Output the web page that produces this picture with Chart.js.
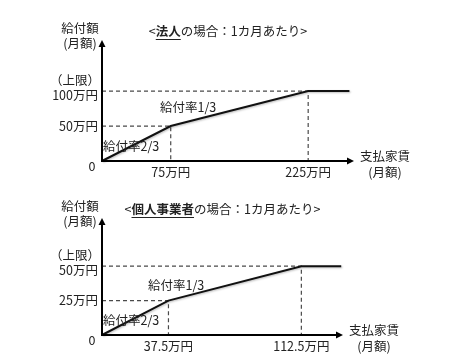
<!DOCTYPE html>
<html>
<head>
<meta charset="utf-8">
<script src="https://cdn.jsdelivr.net/npm/chart.js@4.4.1/dist/chart.umd.min.js"></script>
<style>
  html, body { margin: 0; padding: 0; background: #fff; }
  #wrap { position: relative; width: 461px; height: 364px; }
  .box  { position: absolute; left: 0; width: 461px; height: 182px; }
</style>
</head>
<body>
<div id="wrap">
  <div class="box" style="top:0"><canvas id="chart-corp"></canvas></div>
  <div class="box" style="top:182px"><canvas id="chart-sole"></canvas></div>
</div>
<script>
// ── 法人 ─────────────────────────────────────────────
var corpRent    = [0, 75, 225, 270];      // 支払家賃 (万円)
var corpBenefit = [0, 50, 100, 100];      // 給付額 (万円)
var corpXTicks  = ['75万円', '225万円'];
var corpYTicks  = ['50万円', '100万円'];
var corpTitle   = [['<', false], ['法人', true], ['の場合：1カ月あたり>', false]];

// ── 個人事業者 ───────────────────────────────────────
var soleRent    = [0, 37.5, 112.5, 135];
var soleBenefit = [0, 25, 50, 50];
var soleXTicks  = ['37.5万円', '112.5万円'];
var soleYTicks  = ['25万円', '50万円'];
var soleTitle   = [['<', false], ['個人事業者', true], ['の場合：1カ月あたり>', false]];

var rateLabels  = ['給付率2/3', '給付率1/3'];

var FONT = '"Noto Sans CJK JP", "Noto Sans", sans-serif';
var SIZE = '12.5px ';
var INK  = '#222';

// Axes with arrows, tick texts, titles and notes
var diagramPlugin = {
    id: 'diagram',
    beforeDatasetDraw: function (chart, args) {
        if (args.index !== 0) return;
        var ctx = chart.ctx;
        ctx.shadowColor   = 'rgba(0,0,0,0.25)';
        ctx.shadowBlur    = 2;
        ctx.shadowOffsetX = 1;
        ctx.shadowOffsetY = 1;
    },
    afterDatasetDraw: function (chart, args) {
        if (args.index !== 0) return;
        var ctx = chart.ctx;
        ctx.shadowColor = 'transparent';
        ctx.shadowBlur = 0;
        ctx.shadowOffsetX = 0;
        ctx.shadowOffsetY = 0;
    },
    afterDatasetsDraw: function (chart, args, o) {
        var ctx = chart.ctx;
        var a   = chart.chartArea;
        var xs  = chart.scales.x, ys = chart.scales.y;
        var L = a.left, B = a.bottom, T = a.top, R = a.right;

        ctx.save();
        // axes
        ctx.strokeStyle = '#000';
        ctx.fillStyle   = '#000';
        ctx.lineWidth   = 2;
        ctx.beginPath();
        ctx.moveTo(L, B + 1); ctx.lineTo(L, T + 5);
        ctx.moveTo(L - 1, B); ctx.lineTo(R - 5, B);
        ctx.stroke();
        ctx.beginPath();
        ctx.moveTo(L, T); ctx.lineTo(L - 3.5, T + 7); ctx.lineTo(L + 3.5, T + 7); ctx.closePath();
        ctx.fill();
        ctx.beginPath();
        ctx.moveTo(R, B); ctx.lineTo(R - 7, B - 3.5); ctx.lineTo(R - 7, B + 3.5); ctx.closePath();
        ctx.fill();

        ctx.fillStyle    = INK;
        ctx.font         = SIZE + FONT;
        ctx.textBaseline = 'middle';

        // y axis title
        ctx.textAlign = 'center';
        ctx.fillText('給付額', L - 22, T - 12);
        ctx.fillText('(月額)', L - 22, T + 3);

        // x axis title
        ctx.fillText('支払家賃', R + 31, B - 5);
        ctx.fillText('(月額)', R + 31, B + 11);

        // origin
        ctx.fillText('0', L - 10, B + 5);

        // x tick labels
        o.xTicks.forEach(function (t, i) {
            ctx.fillText(t, xs.getPixelForValue(o.rent[i + 1]), B + 11);
        });

        // y tick labels
        ctx.textAlign = 'right';
        ctx.fillText(o.yTicks[0], L - 4, ys.getPixelForValue(o.benefit[1]));
        var capY = ys.getPixelForValue(o.benefit[2]);
        ctx.fillText(o.yTicks[1], L - 4, capY + 4);
        ctx.fillText('（上限）', L - 2, capY - 11);

        // rate notes
        ctx.textAlign = 'left';
        ctx.fillText(rateLabels[0], L + 1, B - 15);
        ctx.fillText(rateLabels[1], L + o.noteDx, B - o.noteDy);

        // title with bold underlined subject
        var cx = (L + R) / 2, ty = T - 9;
        var widths = o.title.map(function (s) {
            ctx.font = (s[1] ? 'bold ' : '') + SIZE + FONT;
            return ctx.measureText(s[0]).width;
        });
        var total = widths.reduce(function (p, w) { return p + w; }, 0);
        var x = cx - total / 2;
        o.title.forEach(function (s, i) {
            ctx.font = (s[1] ? 'bold ' : '') + SIZE + FONT;
            ctx.fillText(s[0], x, ty);
            if (s[1]) {
                ctx.lineWidth = 1;
                ctx.strokeStyle = INK;
                ctx.beginPath();
                ctx.moveTo(x, ty + 8.5); ctx.lineTo(x + widths[i], ty + 8.5);
                ctx.stroke();
            }
            x += widths[i];
        });
        ctx.restore();
    }
};

function makeChart(id, rent, benefit, xTicks, yTicks, title, ext) {
    var main = rent.map(function (x, i) { return { x: x, y: benefit[i] }; });
    var guides = [1, 2].map(function (k) {
        return {
            data: [{ x: 0, y: benefit[k] }, { x: rent[k], y: benefit[k] }, { x: rent[k], y: 0 }],
            borderColor: '#4a4a4a',
            borderWidth: 1.2,
            borderDash: [4, 3],
            pointRadius: 0,
            showLine: true,
            order: 2
        };
    });

    /* global Chart */
    return new Chart(document.getElementById(id), {
        type: 'scatter',
        data: {
            datasets: [{
                data: main,
                borderColor: '#111',
                borderWidth: 2,
                pointRadius: 0,
                showLine: true,
                tension: 0,
                clip: false,
                order: 1
            }].concat(guides)
        },
        options: {
            responsive: true,
            maintainAspectRatio: false,
            animation: false,
            layout: { padding: ext.padding },
            plugins: {
                legend: { display: false },
                tooltip: { enabled: false },
                diagram: {
                    rent: rent, benefit: benefit,
                    xTicks: xTicks, yTicks: yTicks, title: title,
                    noteDx: ext.noteDx, noteDy: ext.noteDy
                }
            },
            scales: {
                x: { type: 'linear', min: 0, max: ext.xMax, display: false },
                y: { type: 'linear', min: 0, max: ext.yMax, display: false }
            }
        },
        plugins: [diagramPlugin]
    });
}

makeChart('chart-corp', corpRent, corpBenefit, corpXTicks, corpYTicks, corpTitle, {
    xMax: 275, yMax: 173,
    padding: { left: 102, top: 40, right: 107, bottom: 21 },
    noteDx: 58, noteDy: 54
});
makeChart('chart-sole', soleRent, soleBenefit, soleXTicks, soleYTicks, soleTitle, {
    xMax: 136, yMax: 85,
    padding: { left: 102, top: 36, right: 118, bottom: 29 },
    noteDx: 46, noteDy: 50
});
</script>
</body>
</html>
